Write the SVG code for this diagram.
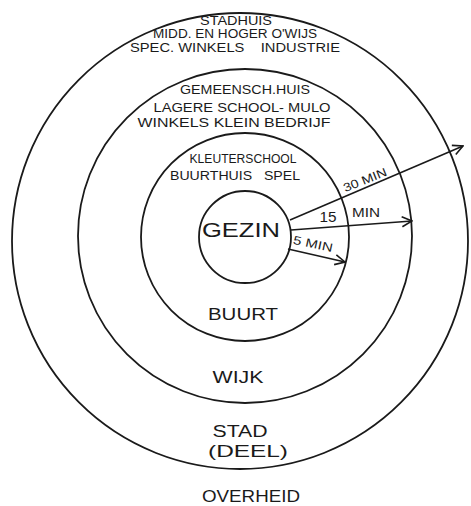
<svg xmlns="http://www.w3.org/2000/svg" width="471" height="506" viewBox="0 0 471 506">
<style>
.ring{fill:none;stroke:#1a1a1a;stroke-width:1.8}
.t{font-family:"Liberation Sans",Arial,sans-serif;fill:#1a1a1a;text-anchor:middle}
.s{font-size:12px}
.m{font-size:16px}
.l{font-size:20px}
.arr{fill:none;stroke:#1a1a1a;stroke-width:1.6}
</style>
<defs>
<marker id="ah" viewBox="0 0 12 12" refX="11" refY="6" markerWidth="12" markerHeight="12" markerUnits="userSpaceOnUse" orient="auto">
<path d="M1,1 L11,6 L1,11" fill="none" stroke="#1a1a1a" stroke-width="1.6"/>
</marker>
</defs>
<rect width="471" height="506" fill="#ffffff"/>
<g id="stad">
<circle class="ring" cx="240" cy="241" r="228"/>
<text class="t s" x="236" y="25" textLength="72" lengthAdjust="spacingAndGlyphs">STADHUIS</text>
<text class="t s" x="235" y="38" textLength="164" lengthAdjust="spacingAndGlyphs">MIDD. EN HOGER O'WIJS</text>
<text class="t s" x="235" y="52" textLength="210" lengthAdjust="spacingAndGlyphs" xml:space="preserve">SPEC. WINKELS    INDUSTRIE</text>
<text class="t m" x="240" y="437" textLength="55" lengthAdjust="spacingAndGlyphs">STAD</text>
<text class="t m" x="248" y="457" textLength="80" lengthAdjust="spacingAndGlyphs">(DEEL)</text>
</g>
<g id="wijk">
<circle class="ring" cx="245" cy="236" r="167"/>
<text class="t s" x="245" y="94" textLength="130" lengthAdjust="spacingAndGlyphs">GEMEENSCH.HUIS</text>
<text class="t s" x="242" y="112" textLength="177" lengthAdjust="spacingAndGlyphs">LAGERE SCHOOL- MULO</text>
<text class="t s" x="234" y="127" textLength="193" lengthAdjust="spacingAndGlyphs">WINKELS KLEIN BEDRIJF</text>
<text class="t m" x="238" y="383" textLength="51" lengthAdjust="spacingAndGlyphs">WIJK</text>
</g>
<g id="buurt">
<circle class="ring" cx="245" cy="237" r="104"/>
<text class="t s" x="243" y="163" textLength="107" lengthAdjust="spacingAndGlyphs">KLEUTERSCHOOL</text>
<text class="t s" x="235" y="180" textLength="130" lengthAdjust="spacingAndGlyphs" xml:space="preserve">BUURTHUIS   SPEL</text>
<text class="t m" x="243" y="320" textLength="70" lengthAdjust="spacingAndGlyphs">BUURT</text>
</g>
<g id="gezin">
<circle class="ring" cx="245" cy="237" r="46"/>
<text class="t l" x="241" y="237" textLength="78" lengthAdjust="spacingAndGlyphs">GEZIN</text>
</g>
<g id="overheid">
<text class="t m" x="251" y="502" textLength="98" lengthAdjust="spacingAndGlyphs">OVERHEID</text>
</g>
<g id="connectors">
<line class="arr" x1="290" y1="220" x2="463" y2="146" marker-end="url(#ah)"/>
<line class="arr" x1="291" y1="230" x2="412" y2="221" marker-end="url(#ah)"/>
<line class="arr" x1="288" y1="249" x2="345" y2="262" marker-end="url(#ah)"/>
<text class="t s" x="365" y="184" transform="rotate(-22 365 180)" textLength="46" lengthAdjust="spacingAndGlyphs">30 MIN</text>
<text class="t" x="328" y="222" font-size="14" textLength="17" lengthAdjust="spacingAndGlyphs">15</text>
<text class="t s" x="366" y="217" textLength="28" lengthAdjust="spacingAndGlyphs">MIN</text>
<text class="t s" x="313" y="248" transform="rotate(12 313 244)" textLength="40" lengthAdjust="spacingAndGlyphs">5 MIN</text>
</g>
</svg>
